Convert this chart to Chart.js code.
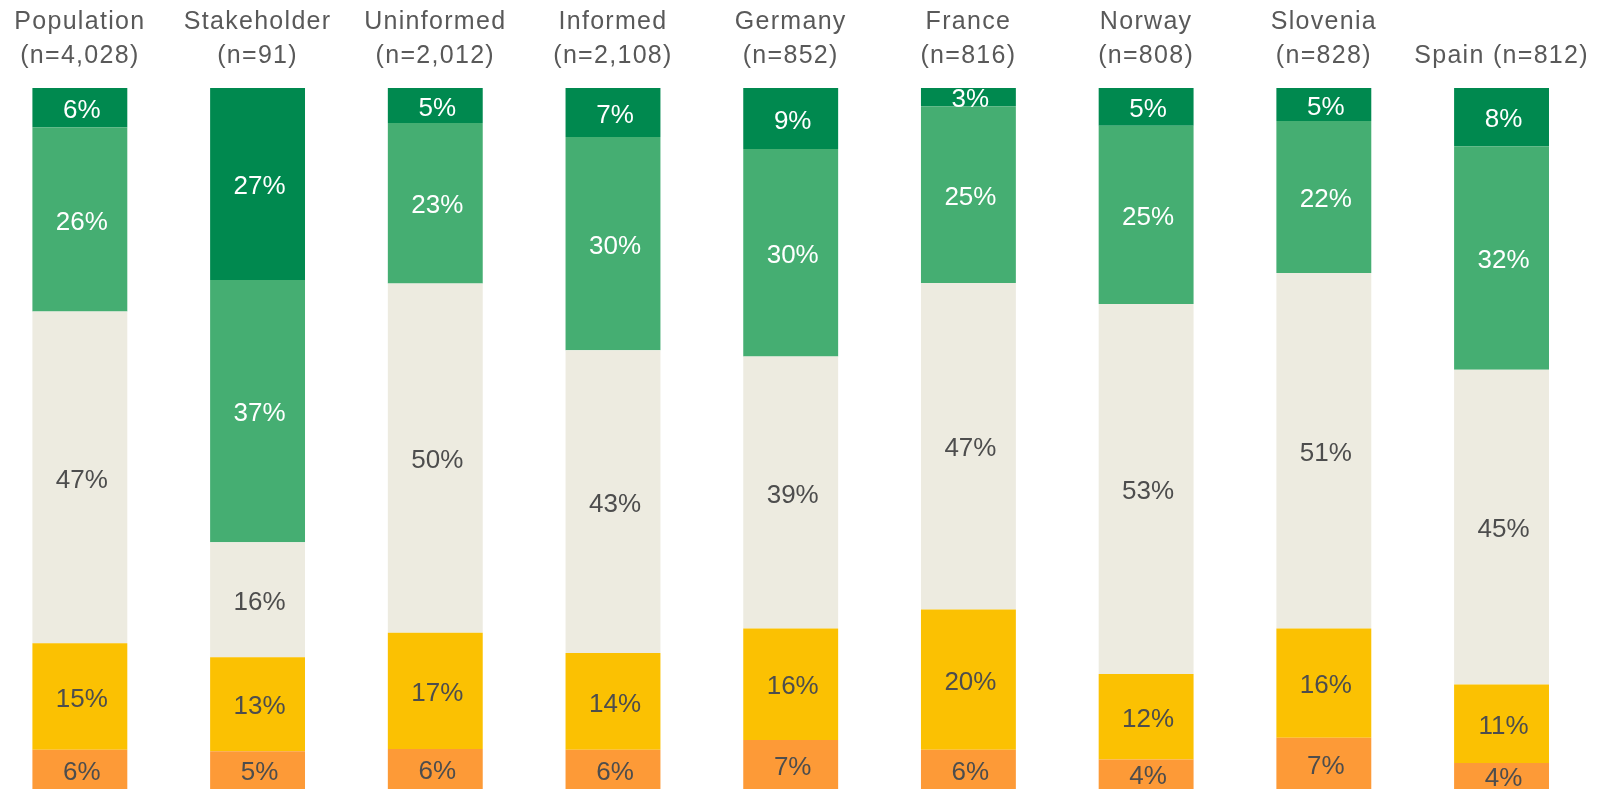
<!DOCTYPE html>
<html>
<head>
<meta charset="utf-8">
<script src="https://cdn.jsdelivr.net/npm/chart.js@4.4.1/dist/chart.umd.min.js"></script>
<style>
  html, body { margin: 0; padding: 0; background: #ffffff; overflow: hidden; }
  #wrap { position: relative; width: 1598px; height: 789px; overflow: hidden; }
  #c { position: absolute; left: -9px; top: 0; }
</style>
</head>
<body>
<div id="wrap"><canvas id="c" width="1607" height="789"></canvas></div>
<script>
// Category headers (two-line tick labels)
const categories = [
  ["Population", "(n=4,028)"],
  ["Stakeholder", "(n=91)"],
  ["Uninformed", "(n=2,012)"],
  ["Informed", "(n=2,108)"],
  ["Germany", "(n=852)"],
  ["France", "(n=816)"],
  ["Norway", "(n=808)"],
  ["Slovenia", "(n=828)"],
  ["Spain (n=812)"]
];

// Shares (%) per category, bottom segment to top segment
const seriesOrange    = [5.6, 5.4, 5.7, 5.6, 7.0, 5.6, 4.2, 7.3, 3.7];
const seriesYellow    = [15.2, 13.4, 16.6, 13.8, 15.9, 20.0, 12.2, 15.6, 11.2];
const seriesBeige     = [47.3, 16.4, 49.8, 43.2, 38.8, 46.6, 52.8, 50.7, 44.9];
const seriesMidGreen  = [26.3, 37.4, 22.9, 30.4, 29.6, 25.2, 25.4, 21.7, 31.9];
const seriesDarkGreen = [5.6, 27.4, 5.0, 7.0, 8.7, 2.6, 5.4, 4.7, 8.3];

const FONT = "'Liberation Sans', Arial, sans-serif";

const segmentLabels = {
  id: 'segmentLabels',
  afterDatasetsDraw(chart) {
    const ctx = chart.ctx;
    ctx.save();
    ctx.letterSpacing = '0px';
    ctx.font = "26px " + FONT;
    ctx.textAlign = 'center';
    ctx.textBaseline = 'middle';
    chart.data.datasets.forEach((ds, di) => {
      const meta = chart.getDatasetMeta(di);
      meta.data.forEach((el, i) => {
        const v = ds.data[i];
        const yc = (el.y + el.base) / 2;
        ctx.fillStyle = ds.labelColor;
        ctx.fillText(Math.round(v) + '%', el.x + 2, yc + 3);
      });
    });
    ctx.restore();
  }
};

const letterSpacer = {
  id: 'letterSpacer',
  beforeDraw(chart) { chart.ctx.letterSpacing = '1.3px'; },
  beforeDatasetsDraw(chart) { chart.ctx.letterSpacing = '0px'; }
};

new Chart(document.getElementById('c'), {
  type: 'bar',
  data: {
    labels: categories,
    datasets: [
      { label: 'Orange', data: seriesOrange, backgroundColor: '#FD9A37', labelColor: '#4D4D4D' },
      { label: 'Yellow', data: seriesYellow, backgroundColor: '#FBC102', labelColor: '#4D4D4D' },
      { label: 'Beige', data: seriesBeige, backgroundColor: '#EDEBE0', labelColor: '#4D4D4D' },
      { label: 'Mid green', data: seriesMidGreen, backgroundColor: '#45AE72', labelColor: '#FFFFFF' },
      { label: 'Dark green', data: seriesDarkGreen, backgroundColor: '#00894F', labelColor: '#FFFFFF' }
    ]
  },
  options: {
    responsive: false,
    animation: false,
    devicePixelRatio: 1,
    layout: { padding: { left: 0, right: 7.6, top: 0, bottom: 0 } },
    plugins: { legend: { display: false }, tooltip: { enabled: false } },
    datasets: { bar: { borderWidth: 0, categoryPercentage: 1, barPercentage: 0.534 } },
    scales: {
      x: {
        position: 'top',
        stacked: true,
        grid: { display: false, drawTicks: false },
        border: { display: false },
        ticks: {
          color: '#595959',
          font: { family: FONT, size: 25, lineHeight: 1.37 },
          padding: 15,
          maxRotation: 0,
          autoSkip: false
        },
        afterFit(scale) { scale.height = 88; }
      },
      y: {
        display: false,
        stacked: true,
        min: 0,
        max: 100
      }
    }
  },
  plugins: [letterSpacer, segmentLabels]
});
</script>
</body>
</html>
